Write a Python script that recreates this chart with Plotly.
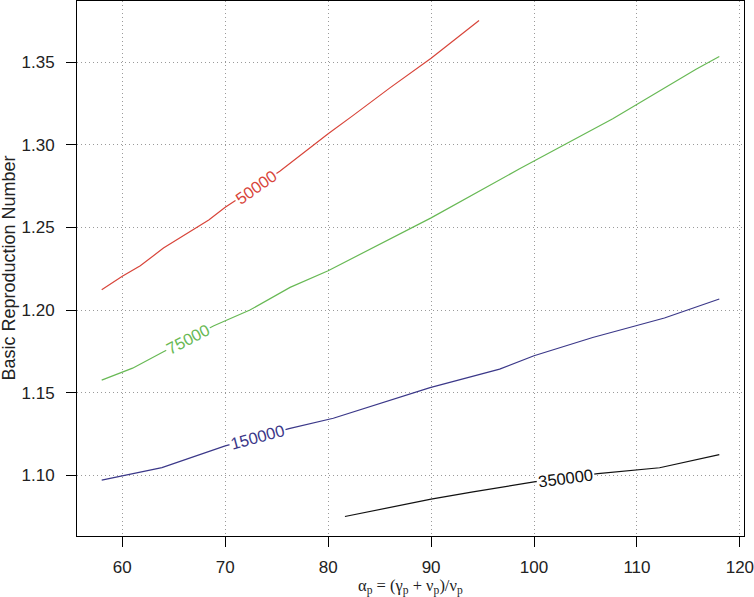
import numpy as np
import plotly.graph_objects as go

# ---- data ----
x_50000 = [58.0, 60.0, 61.75, 64.0, 68.4, 70.0, 75.3, 80.0, 82.4, 86.0, 90.0, 94.66]
y_50000 = [1.2123, 1.2204, 1.2268, 1.2375, 1.2545, 1.2622, 1.2840, 1.3067, 1.3177, 1.3345, 1.3525, 1.3753]

x_75000 = [58.0, 61.0, 64.0, 68.9, 72.4, 76.3, 80.0, 90.0, 98.6, 107.65, 115.74, 118.0]
y_75000 = [1.1576, 1.1648, 1.1747, 1.1905, 1.2000, 1.2137, 1.2238, 1.2558, 1.2855, 1.3158, 1.3458, 1.3535]

x_150000 = [58.0, 63.85, 70.0, 76.2, 80.5, 89.9, 96.66, 100.0, 105.7, 110.0, 112.67, 118.0]
y_150000 = [1.0970, 1.1046, 1.1178, 1.1282, 1.1345, 1.1530, 1.1642, 1.1723, 1.1834, 1.1909, 1.1952, 1.2067]

x_350000 = [81.63, 90.0, 94.07, 100.0, 106.2, 112.2, 118.0]
y_350000 = [1.0750, 1.0855, 1.0899, 1.0960, 1.1010, 1.1045, 1.1125]

contour_levels = ["50000", "75000", "150000", "350000"]
label_x = [73.0, 66.4, 73.1, 103.06]

x_ticks = [60, 70, 80, 90, 100, 110, 120]
y_ticks = [1.10, 1.15, 1.20, 1.25, 1.30, 1.35]

x_title = "α<sub>p</sub> = (γ<sub>p</sub> + ν<sub>p</sub>)/ν<sub>p</sub>"
y_title = "Basic Reproduction Number"

# ---- styles ----
colors = ["#D8453A", "#68B955", "#3B3889", "#111111"]
label_angles = [-35, -27.5, -15, -7.4]
FONT = "Liberation Sans, Arial, Helvetica, sans-serif"

series = [(x_50000, y_50000), (x_75000, y_75000), (x_150000, y_150000), (x_350000, y_350000)]

fig = go.Figure()
for (xs, ys), lvl, col in zip(series, contour_levels, colors):
    fig.add_trace(go.Scatter(x=xs, y=ys, mode="lines", name=lvl,
                             line=dict(color=col, width=1.2), showlegend=False))

for (xs, ys), lvl, col, lx, ang in zip(series, contour_levels, colors, label_x, label_angles):
    ly = float(np.interp(lx, xs, ys))
    fig.add_annotation(x=lx, y=ly, text=lvl, showarrow=False, textangle=ang,
                       font=dict(family=FONT, size=16.5, color=col),
                       bgcolor="white", borderpad=1)

axis_common = dict(showline=True, mirror=True, linecolor="black", linewidth=1,
                   ticks="outside", ticklen=10, tickwidth=1, tickcolor="black",
                   showgrid=True, gridcolor="#9a9a9a", griddash="1px,3px", gridwidth=1,
                   zeroline=False, automargin=False, ticklabeloverflow="allow",
                   tickfont=dict(family=FONT, size=17, color="#222"))

L, R, T, B = 77, 10, 1, 61
W, H = 754, 597
pw, ph = W - L - R, H - T - B

fig.update_layout(
    width=W, height=H,
    margin=dict(l=L, r=R, t=T, b=B),
    plot_bgcolor="white", paper_bgcolor="white",
    xaxis=dict(range=[55.6, 120.4], tickvals=x_ticks,
               ticktext=[str(v) for v in x_ticks], ticklabelstandoff=6,
               **axis_common),
    yaxis=dict(range=[1.0632, 1.3871], tickvals=y_ticks,
               ticktext=[f"{v:.2f}" for v in y_ticks], ticklabelstandoff=8,
               **axis_common),
)

# axis titles
fig.add_annotation(xref="paper", yref="paper", x=0.5, y=-50.5 / ph,
                   xanchor="center", yanchor="middle", showarrow=False,
                   text=x_title, borderpad=0,
                   font=dict(family="Liberation Serif, Times New Roman, serif", size=16.5, color="#222"))
fig.add_annotation(xref="paper", yref="paper", x=(8 - L) / pw, y=0.5,
                   xanchor="center", yanchor="middle", showarrow=False, textangle=-90,
                   text=y_title,
                   font=dict(family=FONT, size=18, color="#222"))

fig.write_html("out.html", config={"displayModeBar": False},
               post_script="document.body.style.margin='0';document.body.style.overflow='hidden';")
